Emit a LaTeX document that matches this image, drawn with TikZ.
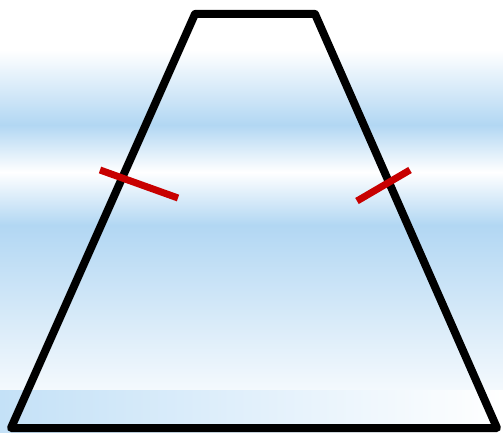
\documentclass[tikz,border=0pt]{standalone}
\usetikzlibrary{calc}

\definecolor{bandblue}{RGB}{178,215,243}
\definecolor{paleblue}{RGB}{244,249,253}
\definecolor{stripblue}{RGB}{196,225,247}
\definecolor{tickred}{RGB}{200,0,0}

\begin{document}
\begin{tikzpicture}[
	x=1pt, y=1pt,
	side/.style={draw=black, line width=8pt, line join=round},
	tick/.style={draw=tickred, line width=7pt}
	]
	
	\useasboundingbox (0,0) rectangle (503,432);
	
	% ======================
	% Hintergrund
	% ======================
	\fill[white] (0,382) rectangle (503,432);
	\shade[top color=white, bottom color=bandblue] (0,307) rectangle (503,382);
	\shade[top color=bandblue, bottom color=white] (0,260) rectangle (503,307);
	\shade[top color=white, bottom color=bandblue] (0,207) rectangle (503,260);
	\shade[top color=bandblue, bottom color=paleblue] (0,42) rectangle (503,207);
	\shade[left color=stripblue, right color=white] (0,0) rectangle (503,42);
	
	% ======================
	% Trapez
	% ======================
	\coordinate (A) at (11,4);
	\coordinate (B) at (497,4);
	\coordinate (C) at (315,418);
	\coordinate (D) at (195,418);
	
	\draw[side] (A) -- (B) -- (C) -- (D) -- cycle;
	
	% Markierungen (gleich lange Schenkel)
	\coordinate (L1) at (100,262);
	\coordinate (L2) at (178,234);
	\coordinate (R1) at (357,231);
	\coordinate (R2) at (410,262);
	
	\draw[tick] (L1) -- (L2);
	\draw[tick] (R1) -- (R2);
	
\end{tikzpicture}
\end{document}
